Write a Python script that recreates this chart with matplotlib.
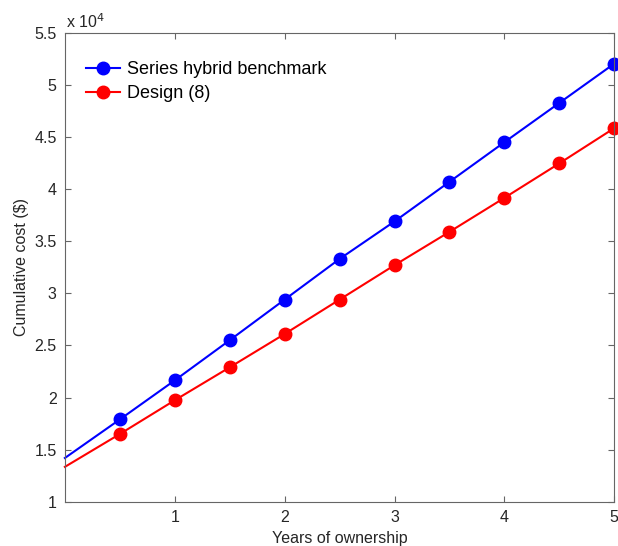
#!/usr/bin/env python3
import numpy as np
import matplotlib as mpl
mpl.use("Agg")
import matplotlib.pyplot as plt

mpl.rcParams.update({
    "font.family": "Liberation Sans", "font.size": 11.5,
    "xtick.direction": "in", "ytick.direction": "in",
    "xtick.top": True, "ytick.right": True,
})

# years of ownership; the first point (0) is drawn as line only
YEARS = [0, 0.5, 1, 1.5, 2, 2.5, 3, 3.5, 4, 4.5, 5]
BENCHMARK = [14200, 17900, 21650, 25500, 29400, 33300, 36900, 40700, 44500, 48270, 52040]
DESIGN8 = [13350, 16500, 19740, 22900, 26100, 29400, 32700, 35900, 39160, 42470, 45850]

fig = plt.figure(figsize=(6.18, 5.46), dpi=100)
ax = fig.add_axes([0.105, 0.081, 0.889, 0.859])

for vals, col, lab in ((BENCHMARK, "blue", "Series hybrid benchmark"),
                       (DESIGN8, "red", "Design (8)")):
    ax.plot(YEARS, vals, color=col, lw=1.5, marker="o", ms=9,
            markevery=list(range(1, len(YEARS))), label=lab, clip_on=False)

ax.set_xlim(0, 5)
ax.set_ylim(10000, 55000)
ax.set_xticks([1, 2, 3, 4, 5])
ax.set_yticks(np.arange(10000, 55001, 5000))
ax.set_yticklabels([f"{v/1e4:g}" for v in np.arange(10000, 55001, 5000)])
ax.text(0.002, 1.003, r"x 10$^4$", transform=ax.transAxes, fontsize=11.5,
        ha="left", va="bottom", color="0.15")
ax.set_xlabel("Years of ownership", labelpad=4, color="0.15")
ax.set_ylabel("Cumulative cost ($)", labelpad=4, color="0.15")
for s in ax.spines.values():
    s.set_color("0.4")
ax.tick_params(colors="0.15", length=4, color="0.4", pad=6)
ax.legend(loc="upper left", frameon=False, handlelength=1.9, handletextpad=0.4,
          borderaxespad=0.0, labelspacing=0.4, fontsize=13,
          bbox_to_anchor=(0.025, 0.955))

fig.savefig("out.png", dpi=100)
